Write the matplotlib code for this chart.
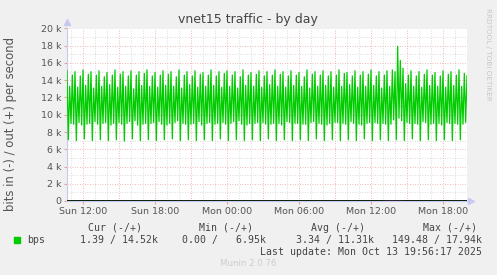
import matplotlib
matplotlib.use('Agg')
import matplotlib.pyplot as plt
from matplotlib.patches import Rectangle
import numpy as np

# out (+) traffic, kbit/s, one row per 40 minutes (6 samples)
out_k = [
    [15.1, 7.1, 13.3, 9.0, 14.6, 8.9],
    [15.0, 7.0, 13.2, 9.1, 14.5, 8.8],
    [15.2, 7.2, 13.4, 8.9, 14.7, 9.0],
    [15.0, 7.0, 13.1, 9.2, 14.6, 8.9],
    [15.1, 7.1, 13.3, 9.0, 14.4, 9.1],
    [14.9, 7.0, 13.5, 8.8, 14.6, 9.0],
    [15.2, 7.1, 13.2, 9.1, 14.7, 8.9],
    [15.0, 6.95, 13.3, 9.0, 14.5, 9.2],
    [15.1, 7.2, 13.0, 9.3, 14.6, 8.8],
    [15.0, 7.0, 13.4, 8.9, 14.8, 9.0],
    [15.2, 7.1, 13.3, 9.0, 14.5, 9.1],
    [14.9, 7.0, 13.2, 9.2, 14.6, 8.9],
    [15.1, 7.1, 13.4, 8.8, 14.7, 9.0],
    [15.0, 7.2, 13.3, 9.1, 14.4, 9.3],
    [15.2, 7.0, 13.1, 9.0, 14.6, 8.9],
    [15.0, 7.1, 13.5, 8.9, 14.5, 9.0],
    [15.1, 7.0, 13.2, 9.2, 14.7, 8.8],
    [14.9, 7.1, 13.3, 9.0, 14.6, 9.1],
    [15.2, 7.0, 13.4, 8.9, 14.5, 9.0],
    [15.0, 7.2, 13.2, 9.1, 14.8, 8.9],
    [15.1, 7.0, 13.3, 9.0, 14.6, 9.2],
    [15.0, 7.1, 13.1, 9.3, 14.4, 8.9],
    [15.2, 7.0, 13.4, 8.8, 14.6, 9.0],
    [14.9, 7.1, 13.3, 9.0, 14.7, 9.1],
    [15.1, 7.0, 13.2, 9.1, 14.5, 8.9],
    [15.0, 7.2, 13.5, 8.9, 14.6, 9.0],
    [15.2, 7.0, 13.3, 9.0, 14.7, 8.8],
    [15.0, 7.1, 13.2, 9.2, 14.5, 9.1],
    [15.1, 7.0, 13.4, 9.0, 14.6, 9.0],
    [14.9, 7.1, 13.3, 8.9, 14.4, 8.9],
    [15.2, 7.0, 13.1, 9.1, 14.7, 9.2],
    [15.0, 7.2, 13.3, 9.0, 14.6, 8.9],
    [15.1, 7.0, 13.4, 8.8, 14.5, 9.0],
    [15.0, 7.1, 13.2, 9.1, 14.6, 9.1],
    [15.2, 7.0, 13.3, 9.0, 14.8, 8.9],
    [14.9, 7.1, 13.5, 9.2, 14.5, 9.0],
    [15.1, 7.0, 13.2, 8.9, 14.6, 8.8],
    [15.0, 7.2, 13.3, 9.0, 14.7, 9.1],
    [15.2, 7.0, 13.4, 9.1, 14.5, 9.0],
    [15.0, 7.1, 13.1, 9.0, 14.6, 8.9],
    [15.1, 7.0, 13.3, 8.9, 15.2, 9.4],
    [15.0, 7.1, 17.94, 9.6, 16.3, 9.3],
    [15.4, 7.0, 13.6, 9.1, 14.6, 9.0],
    [15.1, 7.2, 13.3, 9.0, 14.5, 8.9],
    [15.0, 7.0, 13.2, 9.2, 14.7, 9.1],
    [15.2, 7.1, 13.4, 8.9, 14.6, 9.0],
    [14.9, 7.0, 13.3, 9.0, 14.5, 8.8],
    [15.1, 7.1, 13.2, 9.1, 14.7, 9.0],
    [15.0, 7.0, 13.4, 9.0, 14.6, 8.9],
    [15.2, 7.1, 13.3, 8.9, 14.8, 9.1],
]
out_last = 14.52

# in (-) traffic, bit/s, hourly
in_bps = [1.2, 2.5, 3.1, 0.8, 2.2, 1.9, 3.4, 2.7, 1.5, 2.0, 3.3, 2.9, 1.1, 2.4,
          3.0, 2.6, 1.8, 2.1, 3.2, 2.3, 1.6, 2.8, 3.1, 2.0, 1.4, 2.5, 3.0, 149.48,
          2.2, 1.7, 2.9, 2.4, 1.3, 1.39]

tick_hours = [12, 18, 24, 30, 36, 42]
tick_labels = ['Sun 12:00', 'Sun 18:00', 'Mon 00:00', 'Mon 06:00', 'Mon 12:00', 'Mon 18:00']
y_ticks = [0, 2000, 4000, 6000, 8000, 10000, 12000, 14000, 16000, 18000, 20000]
y_labels = ['0', '2 k', '4 k', '6 k', '8 k', '10 k', '12 k', '14 k', '16 k', '18 k', '20 k']

legend_heads = ['Cur (-/+)', 'Min (-/+)', 'Avg (-/+)', 'Max (-/+)']
legend_vals = ['1.39 / 14.52k', '0.00 /   6.95k', '3.34 / 11.31k', '149.48 / 17.94k']

t_start = 10 + 40 / 60
t_end = 44.0

out = np.append(np.array(out_k).ravel(), out_last) * 1000
t_out = t_start + np.arange(len(out)) / 9.0
t_in = t_start + np.arange(len(in_bps)) * (t_end - t_start) / (len(in_bps) - 1)

W, H = 497, 275
fig = plt.figure(figsize=(W / 100, H / 100), dpi=100, facecolor='#f0f0f0')
ax = fig.add_axes([67 / W, 1 - 201 / H, 400 / W, 172.5 / H])
ax.set_facecolor('white')

ax.set_xlim(t_start, t_end)
ax.set_ylim(0, 20000)

dot = (0, (1, 2))
for h in range(11, 45):
    c = '#eaa0a0' if h % 3 == 0 else '#cfcfcf'
    ax.axvline(h, color=c, lw=0.6, ls=dot, zorder=1)
for v in range(1000, 20001, 1000):
    c = '#eaa0a0' if v % 2000 == 0 else '#cfcfcf'
    ax.axhline(v, color=c, lw=0.6, ls=dot, zorder=1)

ax.plot(t_out, out, color='#00cc00', lw=0.9, zorder=3)
ax.plot(t_in, -np.array(in_bps), color='#00cc00', lw=0.9, zorder=3)
ax.axhline(0, color='black', lw=1.2, zorder=4)

for s in ['top', 'right']:
    ax.spines[s].set_visible(False)
ax.spines['left'].set_color('#c8c8f0')
ax.spines['bottom'].set_color('#c8c8f0')
ax.spines['left'].set_linewidth(0.8)
ax.plot([0], [1.04], marker='^', color='#c8c8f0', ms=4, transform=ax.transAxes, clip_on=False)
ax.plot([1.01], [0], marker='>', color='#c8c8f0', ms=4, transform=ax.transAxes, clip_on=False)

ax.set_xticks(tick_hours)
ax.set_xticklabels(tick_labels)
ax.set_yticks(y_ticks)
ax.set_yticklabels(y_labels)
ax.tick_params(axis='both', labelsize=6.8, labelcolor='#555555', length=2,
               color='#eaa0a0', pad=2)

fig.text(248 / W, 1 - 19 / H, 'vnet15 traffic - by day', ha='center', va='center',
         fontsize=9, color='#444444')
fig.text(11 / W, 1 - 124 / H, 'bits in (-) / out (+) per second', rotation=90,
         ha='center', va='center', fontsize=8.4, color='#555555')
fig.text(488 / W, 1 - 54 / H, 'RRDTOOL / TOBI OETIKER', rotation=270,
         ha='center', va='center', fontsize=5.2, color='#c8c8c8')

mono = 'DejaVu Sans Mono'
head_x = [142, 253, 365, 477]
val_x = [158, 266, 374, 482]
for x, s in zip(head_x, legend_heads):
    fig.text(x / W, 1 - 228 / H, s, ha='right', va='center', family=mono,
             fontsize=7.1, color='#444444')
for x, s in zip(val_x, legend_vals):
    fig.text(x / W, 1 - 240 / H, s, ha='right', va='center', family=mono,
             fontsize=7.1, color='#444444')
fig.patches.append(Rectangle((14 / W, 1 - 243 / H), 6 / W, 6 / H, color='#00cc00',
                             transform=fig.transFigure))
fig.text(27 / W, 1 - 240 / H, 'bps', ha='left', va='center', family=mono,
         fontsize=7.1, color='#444444')
fig.text(482 / W, 1 - 252 / H, 'Last update: Mon Oct 13 19:56:17 2025', ha='right',
         va='center', family=mono, fontsize=7.1, color='#444444')
fig.text(248 / W, 1 - 264 / H, 'Munin 2.0.76', ha='center', va='center',
         fontsize=6.2, color='#cccccc')

fig.savefig('out.png', dpi=100, facecolor=fig.get_facecolor())
